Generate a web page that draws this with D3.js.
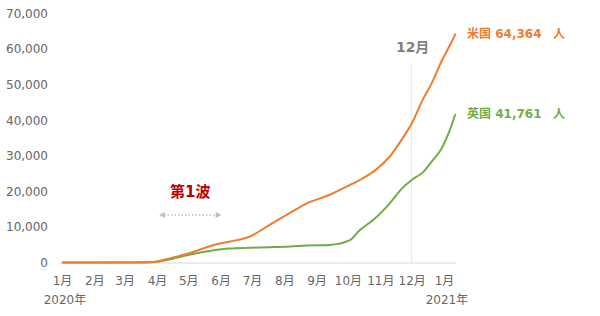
<!DOCTYPE html>
<html><head><meta charset="utf-8">
<script src="https://cdn.jsdelivr.net/npm/d3@7"></script>
<style>
html,body{margin:0;padding:0;background:#fff;}
svg{display:block;}
text{font-family:"DejaVu Sans","Noto Sans CJK JP",sans-serif;}
</style></head>
<body>
<svg id="chart" width="600" height="316"></svg>
<script>
// ---- data ----
const dates = ["2020-01-01","2020-03-20","2020-04-01","2020-04-15","2020-05-02","2020-05-24","2020-06-09","2020-06-29","2020-07-18","2020-08-06","2020-08-23","2020-09-13","2020-10-03","2020-10-12","2020-10-27","2020-11-10","2020-11-22","2020-12-01","2020-12-12","2020-12-20","2020-12-30","2021-01-06","2021-01-10","2021-01-12"];
const usValues = [0,50,300,1300,2600,4800,5850,7300,10600,13860,16680,18970,21800,23190,25900,29800,34800,39000,46000,50300,56800,60700,63000,64364];
const ukValues = [0,30,200,1000,2200,3400,3950,4150,4300,4500,4800,4950,6300,9000,12420,16640,20900,23190,25400,28300,32190,36770,40060,41761];
const monthTicks = ["2020-01-01","2020-02-01","2020-03-01","2020-04-01","2020-05-01","2020-06-01","2020-07-01","2020-08-01","2020-09-01","2020-10-01","2020-11-01","2020-12-01","2021-01-01"];
const yTicks = [0,10000,20000,30000,40000,50000,60000,70000];
const seriesNames = ["米国","英国"];
const seriesColors = ["#ED7D31","#70AD47"];
const yearLabels = ["2020年","2021年"];
const waveLabel = "第1波";
const waveRange = ["2020-04-01","2020-06-01"];
const markerMonth = "2020-12-01";
const markerLabel = "12月";

const parse = d3.timeParse("%Y-%m-%d");
const svg = d3.select("#chart");

const x = d3.scaleTime().domain([parse("2020-01-01"), parse("2021-01-01")]).range([62, 444]);
const y = d3.scaleLinear().domain([0, 70000]).range([262.5, 13.5]);

// y axis
const yAxis = svg.append("g").attr("transform","translate(50,0)")
  .call(d3.axisLeft(y).tickValues(yTicks).tickSize(0).tickPadding(2).tickFormat(d3.format(",")));
yAxis.select(".domain").remove();
yAxis.selectAll("text").attr("fill","#666").style("font-size","12px");

// baseline
svg.append("line").attr("x1",60).attr("x2",456).attr("y1",y(0)+0.5).attr("y2",y(0)+0.5)
  .attr("stroke","#d9d9d9").attr("stroke-width",1);

// 12月 marker line
svg.append("line").attr("x1",x(parse(markerMonth))).attr("x2",x(parse(markerMonth)))
  .attr("y1",63).attr("y2",y(0)).attr("stroke","#e6e6e6").attr("stroke-width",1);
svg.append("text").attr("x",x(parse(markerMonth))+1).attr("y",52).attr("text-anchor","middle")
  .attr("fill","#7f7f7f").style("font-size","14px").style("font-weight","bold").text(markerLabel);

// x axis
const xAxis = svg.append("g").attr("transform","translate(0,"+(y(0))+")")
  .call(d3.axisBottom(x).tickValues(monthTicks.map(parse)).tickSize(0).tickPadding(14)
    .tickFormat(d => (d.getMonth()+1)+"月"));
xAxis.select(".domain").remove();
xAxis.selectAll("text").attr("fill","#666").style("font-size","12px");

svg.append("text").attr("x",x(parse(monthTicks[0]))+3).attr("y",304).attr("text-anchor","middle")
  .attr("fill","#666").style("font-size","12px").text(yearLabels[0]);
svg.append("text").attr("x",x(parse(monthTicks[monthTicks.length-1]))+3).attr("y",304).attr("text-anchor","middle")
  .attr("fill","#666").style("font-size","12px").text(yearLabels[1]);

// lines
const line = d3.line().x(d => x(d.date)).y(d => y(d.v)).curve(d3.curveMonotoneX);
const series = [usValues, ukValues];
const lastVals = [usValues[usValues.length-1], ukValues[ukValues.length-1]];
series.slice().reverse().forEach((vals, ri) => {
  const i = series.length-1-ri;
  const data = dates.map((d,k)=>({date:parse(d), v:vals[k]}));
  svg.append("path").datum(data).attr("d",line).attr("fill","none")
    .attr("stroke",seriesColors[i]).attr("stroke-width",2).attr("stroke-linejoin","round");
});

// end labels
series.forEach((vals,i) => {
  const ly = y(lastVals[i]) + 4.5;
  svg.append("text").attr("x",467).attr("y",ly).attr("fill",seriesColors[i])
    .style("font-size","12px").style("font-weight","bold")
    .text(seriesNames[i]+" "+d3.format(",")(lastVals[i]));
  svg.append("text").attr("x",553).attr("y",ly).attr("fill",seriesColors[i])
    .style("font-size","12px").style("font-weight","bold").text("人");
});

// 第1波 annotation
const wx0 = x(parse(waveRange[0]))+2, wx1 = x(parse(waveRange[1]))+1;
svg.append("text").attr("x",(wx0+wx1)/2).attr("y",197).attr("text-anchor","middle")
  .attr("fill","#C00000").style("font-size","15px").style("font-weight","bold").text(waveLabel);
svg.append("line").attr("x1",wx0+5).attr("x2",wx1-5).attr("y1",215).attr("y2",215)
  .attr("stroke","#bfbfbf").attr("stroke-width",1.5).attr("stroke-dasharray","1.5,2");
svg.append("path").attr("d",`M${wx0},215 L${wx0+6},212 L${wx0+6},218 Z`).attr("fill","#bfbfbf");
svg.append("path").attr("d",`M${wx1},215 L${wx1-6},212 L${wx1-6},218 Z`).attr("fill","#bfbfbf");
</script>
</body></html>
